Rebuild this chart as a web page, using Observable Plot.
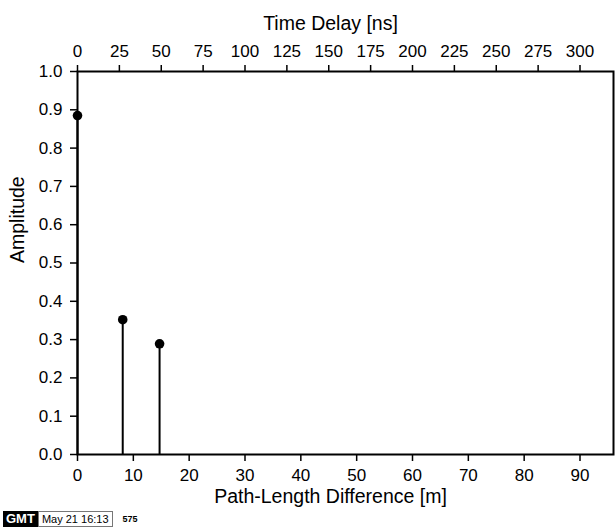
<!DOCTYPE html>
<html>
<head>
<meta charset="utf-8">
<script src="https://cdn.jsdelivr.net/npm/d3@7"></script>
<script src="https://cdn.jsdelivr.net/npm/@observablehq/plot@0.6"></script>
<style>
  body { margin: 0; background: #fff; font-family: "Liberation Sans", Arial, Helvetica, sans-serif; }
  #wrap { position: relative; width: 615px; height: 529px; }
  #chart g[aria-label$="tick label"] text { font-size: 17px !important; }
  #footer { position: absolute; left: 3px; top: 511px; height: 16px; display: flex; align-items: center; white-space: nowrap; }
  #gmt { background: #000; color: #fff; font-weight: bold; font-size: 13px; padding: 0 3px; height: 16px; line-height: 16px; box-sizing: border-box; }
  #stamp { border: 1px solid #777; font-size: 11px; padding: 0 3px; height: 16px; line-height: 14px; box-sizing: border-box; white-space: nowrap; }
  #num { font-size: 9px; font-weight: bold; margin-left: 10px; }
</style>
</head>
<body>
<div id="wrap">
  <div id="chart"></div>
  <div id="footer"><span id="gmt">GMT</span><span id="stamp">May 21 16:13</span><span id="num">575</span></div>
</div>
<script>
// Data
const pathDiff = [0, 8.1, 14.7];          // m
const amplitude = [0.885, 0.352, 0.289];
const xTicks = [0, 10, 20, 30, 40, 50, 60, 70, 80, 90];
const nsTicks = [0, 25, 50, 75, 100, 125, 150, 175, 200, 225, 250, 275, 300];
const yTicks = [0, 0.1, 0.2, 0.3, 0.4, 0.5, 0.6, 0.7, 0.8, 0.9, 1.0];
const mPerNs = 0.3;
const xDomain = [0, 96];
const yDomain = [0, 1];
const xLabel = "Path-Length Difference [m]";
const topLabel = "Time Delay [ns]";
const yLabel = "Amplitude";

const data = pathDiff.map((x, i) => ({x, amp: amplitude[i]}));
const font = "Liberation Sans, Arial, Helvetica, sans-serif";

const chart = Plot.plot({
  width: 615,
  height: 510,
  marginLeft: 77,
  marginRight: 2,
  marginTop: 71,
  marginBottom: 56,
  style: {fontFamily: font, color: "#000", background: "#fff"},
  x: {domain: xDomain},
  y: {domain: yDomain},
  marks: [
    Plot.ruleX(data, {x: "x", y1: 0, y2: "amp", stroke: "#000", strokeWidth: 2}),
    Plot.dot(data, {x: "x", y: "amp", r: 4.8, fill: "#000", stroke: "none"}),
    Plot.frame({stroke: "#000", strokeWidth: 2}),
    Plot.axisX({anchor: "bottom", ticks: xTicks, tickSize: 7, tickPadding: 7, fontSize: 17, strokeWidth: 1.5, label: null}),
    Plot.axisX({anchor: "top", ticks: nsTicks.map(t => t * mPerNs), tickFormat: d => String(Math.round(d / mPerNs)), tickSize: 7, tickPadding: 8, fontSize: 17, strokeWidth: 1.5, label: null}),
    Plot.axisY({anchor: "left", ticks: yTicks, tickFormat: d3.format(".1f"), tickSize: 7, tickPadding: 8, fontSize: 17, strokeWidth: 1.5, label: null}),
    Plot.text([xLabel], {text: d => d, frameAnchor: "bottom", dx: -15, dy: 42, lineAnchor: "middle", fontSize: 19.5}),
    Plot.text([topLabel], {text: d => d, frameAnchor: "top", dx: -15, dy: -48, lineAnchor: "middle", fontSize: 19.5}),
    Plot.text([yLabel], {text: d => d, frameAnchor: "left", dx: -60, rotate: -90, lineAnchor: "middle", fontSize: 19.5})
  ]
});
document.getElementById("chart").appendChild(chart);
</script>
</body>
</html>
